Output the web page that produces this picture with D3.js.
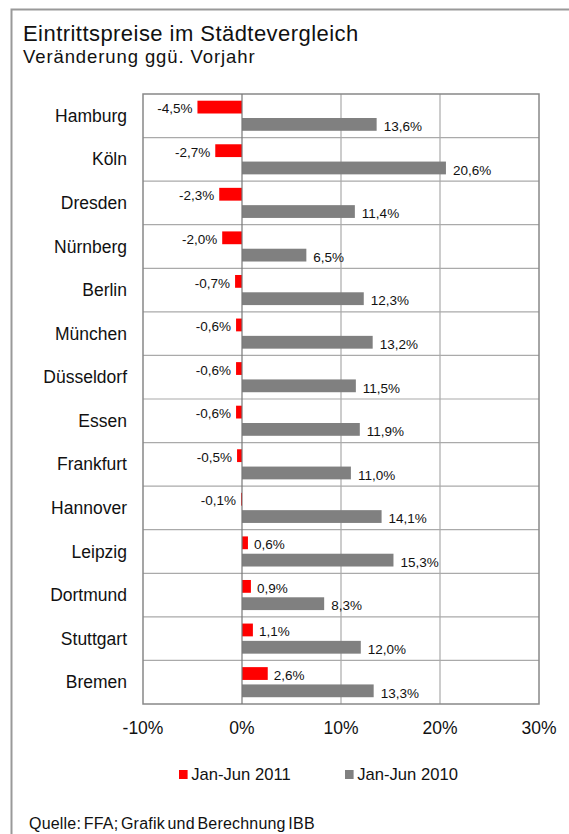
<!DOCTYPE html>
<html><head><meta charset="utf-8">
<script src="https://cdn.jsdelivr.net/npm/d3@7"></script>
<style>body{margin:0;background:#fff;} svg text{font-family:"Liberation Sans",Arial,Helvetica,sans-serif;fill:#111;}</style>
</head><body><svg id="c" width="569" height="834" font-family="Liberation Sans, Arial, sans-serif"></svg>
<script>
const cities = ["Hamburg","Köln","Dresden","Nürnberg","Berlin","München","Düsseldorf","Essen","Frankfurt","Hannover","Leipzig","Dortmund","Stuttgart","Bremen"];
const v2011 = [-4.5,-2.7,-2.3,-2.0,-0.7,-0.6,-0.6,-0.6,-0.5,-0.1,0.6,0.9,1.1,2.6];
const v2010 = [13.6,20.6,11.4,6.5,12.3,13.2,11.5,11.9,11.0,14.1,15.3,8.3,12.0,13.3];
const ticks = [-10,0,10,20,30];
const seriesNames = ["Jan-Jun 2011","Jan-Jun 2010"];

const svg = d3.select("#c");
const fmt = v => d3.format(".1f")(v).replace("−","-").replace(".", ",") + "%";
// frame
svg.append("rect").attr("x",11.5).attr("y",9.5).attr("width",600).attr("height",900)
  .attr("fill","none").attr("stroke","#999").attr("stroke-width",2);
svg.append("text").attr("x",23).attr("y",40.5).attr("font-size",22).attr("letter-spacing",0.45)
  .text("Eintrittspreise im Städtevergleich");
svg.append("text").attr("x",23).attr("y",63).attr("font-size",18.5).attr("letter-spacing",0.9)
  .text("Veränderung ggü. Vorjahr");

const L=143,R=539,T=94,B=704;
const x = d3.scaleLinear().domain([-10,30]).range([L,R]);
const y = d3.scaleBand().domain(cities).range([T,B]);
const bw = y.bandwidth();

// grid
svg.append("g").selectAll("line").data([10,20]).join("line")
  .attr("x1",d=>x(d)).attr("x2",d=>x(d)).attr("y1",T).attr("y2",B)
  .attr("stroke","#bbb").attr("stroke-width",1.5);
svg.append("g").selectAll("line").data(cities.slice(1)).join("line")
  .attr("x1",L).attr("x2",R).attr("y1",d=>y(d)).attr("y2",d=>y(d))
  .attr("stroke","#aaa").attr("stroke-width",1.2);
svg.append("rect").attr("x",L).attr("y",T).attr("width",R-L).attr("height",B-T)
  .attr("fill","none").attr("stroke","#888").attr("stroke-width",1.5);

// bars
const g = svg.append("g");
const redOff=6.7, grayOff=24, bh=12.8;
g.selectAll(".r").data(v2011).join("rect")
  .attr("x",d=>x(Math.min(0,d))).attr("width",d=>Math.abs(x(d)-x(0)))
  .attr("y",(d,i)=>y(cities[i])+redOff).attr("height",bh).attr("fill","#ff0000");
g.selectAll(".g").data(v2010).join("rect")
  .attr("x",d=>x(Math.min(0,d))).attr("width",d=>Math.abs(x(d)-x(0)))
  .attr("y",(d,i)=>y(cities[i])+grayOff).attr("height",bh).attr("fill","#808080");

// zero line
svg.append("line").attr("x1",x(0)).attr("x2",x(0)).attr("y1",T).attr("y2",B)
  .attr("stroke","#777").attr("stroke-width",1.2);

// labels
g.selectAll(".rl").data(v2011).join("text")
  .attr("x",d=>d<0?x(d)-5:x(d)+6)
  .attr("text-anchor",d=>d<0?"end":"start")
  .attr("y",(d,i)=>y(cities[i])+redOff+bh/2+1.5).attr("dy","0.35em")
  .attr("font-size",13.5).text(d=>fmt(d));
g.selectAll(".gl").data(v2010).join("text")
  .attr("x",d=>x(d)+7).attr("text-anchor","start")
  .attr("y",(d,i)=>y(cities[i])+grayOff+bh/2+2).attr("dy","0.35em")
  .attr("font-size",13.5).text(d=>fmt(d));

// category labels
svg.append("g").selectAll("text").data(cities).join("text")
  .attr("x",127).attr("y",d=>y(d)+bw/2).attr("dy","0.35em")
  .attr("text-anchor","end").attr("font-size",17.5).text(d=>d);

// x ticks
svg.append("g").selectAll("text").data(ticks).join("text")
  .attr("x",d=>x(d)).attr("y",734).attr("text-anchor","middle")
  .attr("font-size",17.5).text(d=>d+"%");

// legend
const leg = svg.append("g");
const legX=[179,345], cols=["#ff0000","#808080"];
seriesNames.forEach((n,i)=>{
  leg.append("rect").attr("x",legX[i]).attr("y",770).attr("width",8.6).attr("height",9).attr("fill",cols[i]);
  leg.append("text").attr("x",legX[i]+12.3).attr("y",780).attr("font-size",16.6).text(n);
});

svg.append("text").attr("x",29).attr("y",829).attr("font-size",16).attr("letter-spacing",0.2)
  .attr("word-spacing",-2).text("Quelle: FFA; Grafik und Berechnung IBB");
</script></body></html>
